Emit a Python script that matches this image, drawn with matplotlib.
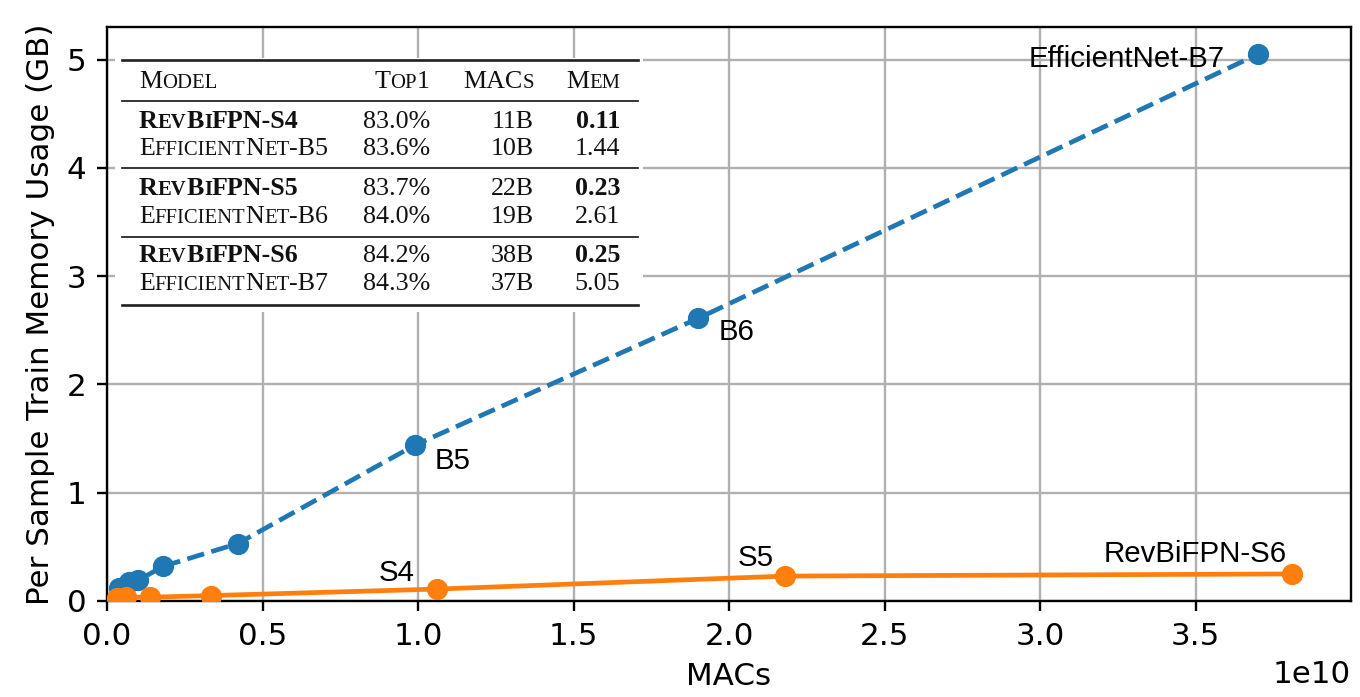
import matplotlib
matplotlib.use("Agg")
import matplotlib.pyplot as plt
from matplotlib.transforms import Affine2D
from matplotlib.patches import Rectangle
from matplotlib.lines import Line2D
from matplotlib.font_manager import FontProperties

# EfficientNet B0..B7 and RevBiFPN S0..S6: MACs vs per-sample train memory (GB)
effnet_macs = [0.39e9, 0.70e9, 1.0e9, 1.8e9, 4.2e9, 9.9e9, 19e9, 37e9]
effnet_mem = [0.12, 0.18, 0.19, 0.32, 0.53, 1.44, 2.61, 5.05]
revbifpn_macs = [0.31e9, 0.62e9, 1.37e9, 3.33e9, 10.6e9, 21.8e9, 38.1e9]
revbifpn_mem = [0.03, 0.035, 0.035, 0.05, 0.11, 0.23, 0.25]

# point labels: (series, index, text, ha, offset in pixels)
point_labels = [
    ("eff", 7, "EfficientNet-B7", "right", (-33, -13)),
    ("eff", 6, "B6", "left", (21, -22)),
    ("eff", 5, "B5", "left", (20, -24)),
    ("rev", 4, "S4", "right", (-22, 8)),
    ("rev", 5, "S5", "right", (-11, 10)),
    ("rev", 6, "RevBiFPN-S6", "right", (-5, 12)),
]

# comparison table
table_header = ["Model", "Top1", "MACs", "Mem"]
table_models = ["RevBiFPN-S4", "EfficientNet-B5", "RevBiFPN-S5",
                "EfficientNet-B6", "RevBiFPN-S6", "EfficientNet-B7"]
table_top1 = ["83.0%", "83.6%", "83.7%", "84.0%", "84.2%", "84.3%"]
table_macs = ["11B", "10B", "22B", "19B", "38B", "37B"]
table_mem = ["0.11", "1.44", "0.23", "2.61", "0.25", "5.05"]
table_bold = [True, False, True, False, True, False]

W, H, DPI = 1360, 697, 212.5
fig = plt.figure(figsize=(W / DPI, H / DPI), dpi=DPI)
ax = fig.add_axes([107 / W, 96 / H, 1244 / W, 574 / H])

ax.grid(True, color="#b0b0b0", linewidth=0.8, zorder=0)
ax.set_axisbelow(True)
ax.plot(effnet_macs, effnet_mem, "o--", color="#1f77b4", linewidth=1.6,
        markersize=6.2, zorder=3)
ax.plot(revbifpn_macs, revbifpn_mem, "o-", color="#ff7f0e", linewidth=1.6,
        markersize=6.2, zorder=4)
ax.set_xlim(left=0)
ax.set_ylim(bottom=0)
ax.tick_params(labelsize=10.5)
ax.xaxis.get_offset_text().set_fontsize(10.5)
ax.set_xlabel("MACs", fontsize=10.5)
ax.set_ylabel("Per Sample Train Memory Usage (GB)", fontsize=10.5)

series = {"eff": (effnet_macs, effnet_mem), "rev": (revbifpn_macs, revbifpn_mem)}
for key, i, txt, ha, off in point_labels:
    xs, ys = series[key]
    ax.annotate(txt, (xs[i], ys[i]), xytext=off, textcoords="offset pixels",
                ha=ha, va="baseline", fontsize=10, family="Liberation Sans",
                zorder=5)

# ---- table drawn in pixel coordinates (origin at top-left) ----
px = Affine2D().scale(1 / W, -1 / H).translate(0, 1) + fig.transFigure

fig.patches.append(Rectangle((115, 58), 528, 254, transform=px,
                             facecolor="white", edgecolor="none", zorder=1))

rule_x = (122, 638)
for y, lw in [(60, 0.9), (101, 0.6), (168, 0.6), (237, 0.6), (305, 0.9)]:
    fig.lines.append(Line2D(rule_x, (y, y), transform=px, color="#222222",
                            linewidth=lw, zorder=2))

fig.canvas.draw()
renderer = fig.canvas.get_renderer()
BIG, SMALL = 8.8, 7.0


def smallcaps_pieces(s):
    pieces = []
    for ch in s:
        small = ch.islower()
        c = ch.upper() if small else ch
        if pieces and pieces[-1][1] == small:
            pieces[-1][0] += c
        else:
            pieces.append([c, small])
    return pieces


def draw_text(x, y, s, ha="left", bold=False, smallcaps=False):
    weight = "bold" if bold else "normal"
    pieces = smallcaps_pieces(s) if smallcaps else [[s, False]]
    props = []
    widths = []
    for txt, small in pieces:
        fp = FontProperties(family="Liberation Serif", weight=weight,
                            size=SMALL if small else BIG)
        w, _, _ = renderer.get_text_width_height_descent(txt, fp, ismath=False)
        props.append(fp)
        widths.append(w)
    total = sum(widths)
    cx = x - total if ha == "right" else x
    for (txt, _), fp, w in zip(pieces, props, widths):
        fig.text(cx, y, txt, transform=px, fontproperties=fp,
                 ha="left", va="baseline", color="#111111", zorder=3)
        cx += w


col_left = 139
col_right = [430, 534, 620]
header_base = 88
row_base = [128, 155, 195, 223, 262, 290]

draw_text(col_left, header_base, table_header[0], smallcaps=True)
for xr, h in zip(col_right, table_header[1:]):
    draw_text(xr, header_base, h, ha="right", smallcaps=True)

for i, yb in enumerate(row_base):
    b = table_bold[i]
    draw_text(col_left, yb, table_models[i], bold=b, smallcaps=True)
    draw_text(col_right[0], yb, table_top1[i], ha="right")
    draw_text(col_right[1], yb, table_macs[i], ha="right")
    draw_text(col_right[2], yb, table_mem[i], ha="right", bold=b)

fig.savefig("out.png", dpi=DPI)
